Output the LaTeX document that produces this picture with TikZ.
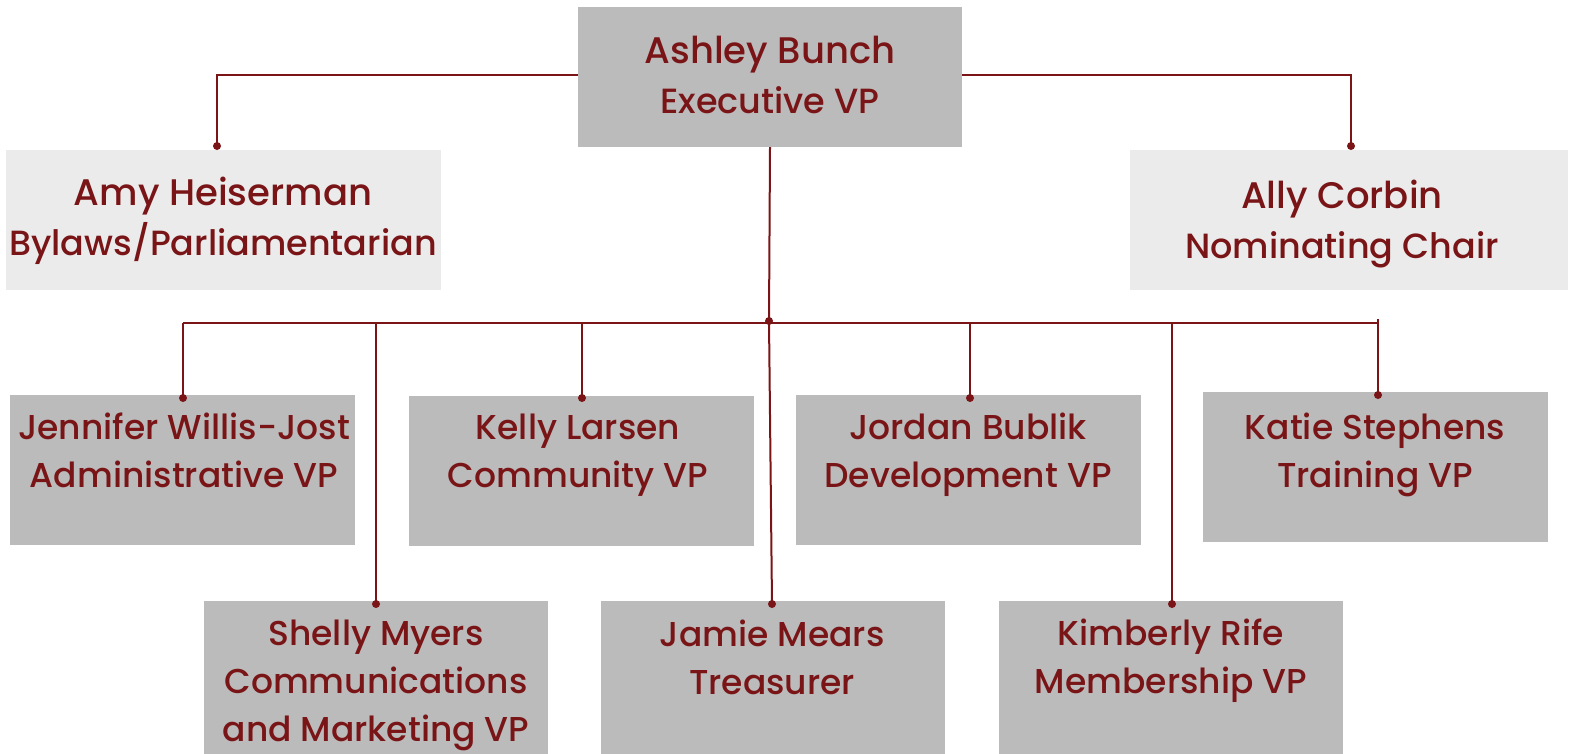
\documentclass[tikz,border=0pt]{standalone}
\usepackage{fontspec}
\setmainfont{Poppins Medium}
\definecolor{boxgray}{HTML}{BBBBBB}
\definecolor{boxlight}{HTML}{EBEBEB}
\definecolor{linered}{HTML}{7B1416}
\definecolor{textred}{HTML}{7A1517}
\newcommand{\bigname}[1]{{\fontsize{37}{50}\selectfont #1}}
\begin{document}
\begin{tikzpicture}[x=1pt,y=-1pt,
  box/.style={draw=none, fill=boxgray, inner sep=0pt},
  lightbox/.style={draw=none, fill=boxlight, inner sep=0pt},
  label/.style={align=center, text=textred, inner sep=0pt, font=\fontsize{34.5}{48}\selectfont},
  toplabel/.style={label, font=\fontsize{35}{50}\selectfont},
  dot/.style={circle, fill=linered, inner sep=0pt, minimum size=8pt},
  conn/.style={draw=linered, line width=2pt}]
\useasboundingbox (0,0) rectangle (1571,753);
% boxes
\node[box, minimum width=384pt, minimum height=140pt] (ash) at (770,77) {};
\node[lightbox, minimum width=435pt, minimum height=140pt] (amy) at (223.5,220) {};
\node[lightbox, minimum width=438pt, minimum height=140pt] (ally) at (1349,220) {};
\node[box, minimum width=345pt, minimum height=150pt] (jen) at (182.5,470) {};
\node[box, minimum width=345pt, minimum height=150pt] (kel) at (581.5,471) {};
\node[box, minimum width=345pt, minimum height=150pt] (jor) at (968.5,470) {};
\node[box, minimum width=345pt, minimum height=150pt] (kat) at (1375.5,467) {};
\node[box, minimum width=344pt, minimum height=160pt] (she) at (376,681) {};
\node[box, minimum width=344pt, minimum height=160pt] (jam) at (773,681) {};
\node[box, minimum width=344pt, minimum height=160pt] (kim) at (1171,681) {};
% texts
\node[toplabel] (t-ash) at (770,75) {\bigname{Ashley Bunch}\\Executive VP};
\node[toplabel] (t-amy) at (223,221) {\bigname{Amy Heiserman}\\Bylaws/Parliamentarian};
\node[toplabel] (t-ally) at (1342,224) {\bigname{Ally Corbin}\\Nominating Chair};
\node[label] (t-jen) at (184,450) {Jennifer Willis-Jost\\Administrative VP};
\node[label] (t-kel) at (578,455) {Kelly Larsen\\Community VP};
\node[label] (t-jor) at (968,455) {Jordan Bublik\\Development VP};
\node[label] (t-kat) at (1375,455) {Katie Stephens\\Training VP};
\node[label] (t-she) at (376,685) {Shelly Myers\\Communications\\and Marketing VP};
\node[label] (t-jam) at (772,657) {Jamie Mears\\Treasurer};
\node[label] (t-kim) at (1171,661) {Kimberly Rife\\Membership VP};
% dots
\node[dot] (d-amy) at (217,146) {};
\node[dot] (d-ally) at (1351,146) {};
\node[dot] (hub) at (769,321) {};
\node[dot] (d-jen) at (183,398) {};
\node[dot] (d-she) at (376,604) {};
\node[dot] (d-kel) at (582,398) {};
\node[dot] (d-jam) at (772,604) {};
\node[dot] (d-jor) at (970,398) {};
\node[dot] (d-kim) at (1172,604) {};
\node[dot] (d-kat) at (1378,395) {};
\coordinate (busL) at (183,323);
\coordinate (busR) at (1378,323);
% connectors
\draw[conn] ([yshift=2pt]ash.west) -| (d-amy.center);
\draw[conn] ([yshift=2pt]ash.east) -| (d-ally.center);
\draw[conn] (ash.south) -- (hub.center);
\draw[conn] (busL) -- (busR);
\draw[conn] (busL) -- (d-jen.center);
\draw[conn] (d-she.center |- busL) -- (d-she.center);
\draw[conn] (d-kel.center |- busL) -- (d-kel.center);
\draw[conn] (hub.center) -- (d-jam.center);
\draw[conn] (d-jor.center |- busL) -- (d-jor.center);
\draw[conn] (d-kim.center |- busL) -- (d-kim.center);
\draw[conn] ([yshift=4pt]busR) -- (d-kat.center);
\end{tikzpicture}
\end{document}
